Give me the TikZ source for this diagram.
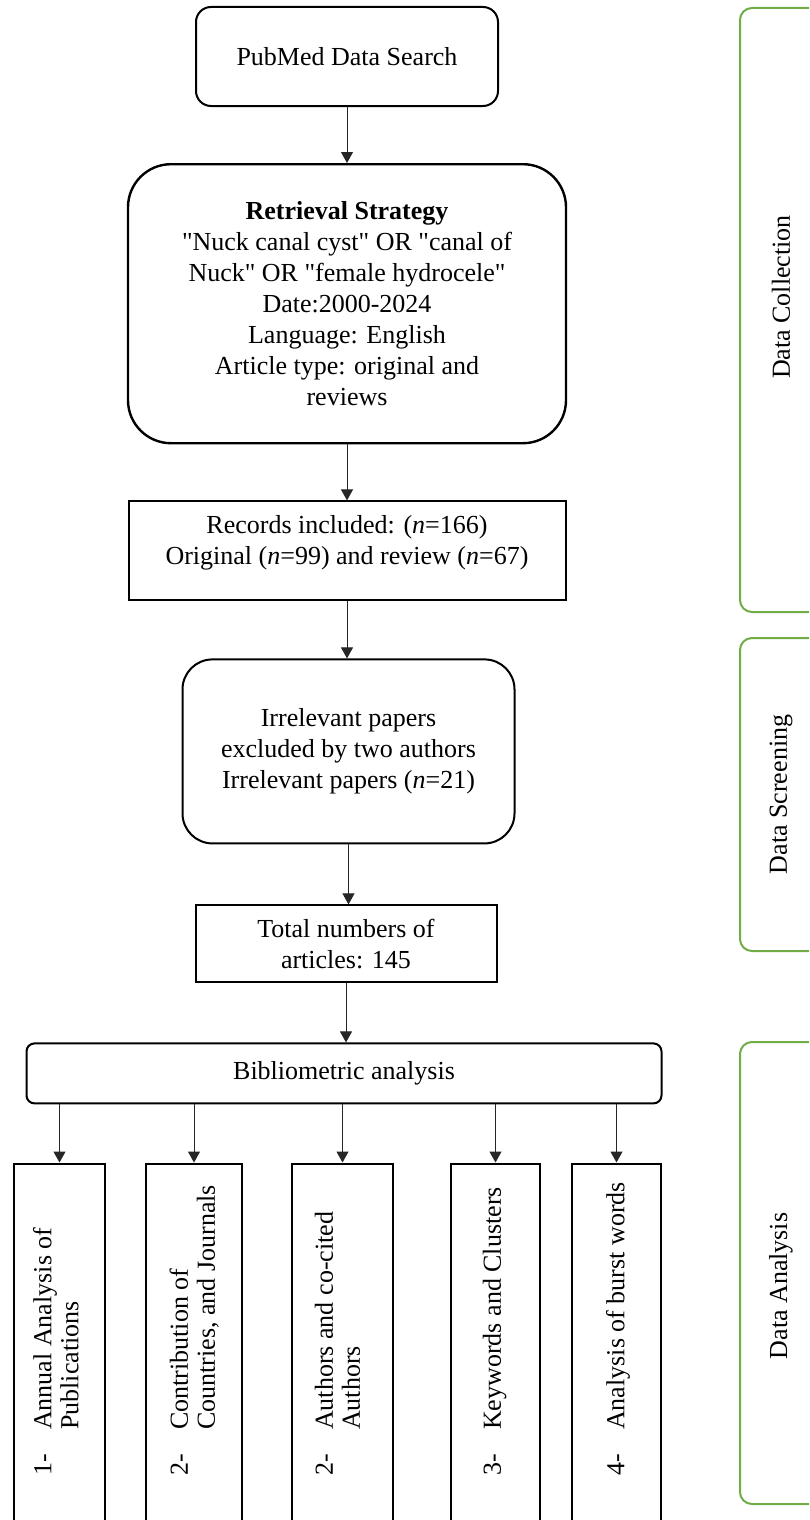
\documentclass[tikz,border=0pt]{standalone}
\usepackage{fontspec}
\setmainfont{Liberation Serif}
\usetikzlibrary{arrows.meta}
\usetikzlibrary{positioning}

\definecolor{stagegreen}{HTML}{70AD47}
\newcommand{\numitem}[2]{\begin{tabular}{@{}p{46pt}@{}l@{}}#1 & #2\end{tabular}}
\newcommand{\qt}[1]{\textquotedbl#1\textquotedbl}

\begin{document}
\begin{tikzpicture}[x=1pt, y=-1pt, >={Triangle[length=11pt,width=12pt]},
    font=\fontsize{26}{31}\selectfont,
    box/.style={draw, line width=2pt, align=center, inner sep=0pt},
    rbox/.style={box, rounded corners=#1},
    stage/.style={draw=stagegreen, line width=2pt, rounded corners=12pt,
        minimum width=82pt, inner sep=0pt},
    item/.style={rotate=90, anchor=west, inner sep=0pt, align=left,
        font=\fontsize{26}{27}\selectfont},
    link/.style={->, line width=1pt, black!85}]

    \clip (0,0) rectangle (809,1520);

    % Nodes

    \node[rbox=15pt, minimum width=302pt, minimum height=99pt] (pub) at (347,56.5) {PubMed Data Search}; %
    \node[rbox=43pt, line width=2.4pt, minimum width=438pt, minimum height=279pt, below=56pt of pub] (ret)
        {\textbf{Retrieval Strategy}\\ \qt{Nuck canal cyst} OR \qt{canal of\\ Nuck} OR \qt{female hydrocele}\\
         Date:2000-2024\\ Language: English\\ Article type: original and\\ reviews}; %
    \node[box, minimum width=437pt, minimum height=99pt, below=56pt of ret] (rec)
        {Records included: (\textit{n}=166)\\ Original (\textit{n}=99) and review (\textit{n}=67)\\[-10pt]\mbox{}}; %
    \node[rbox=30pt, minimum width=332pt, minimum height=184pt, below=57pt of rec, xshift=1.5pt] (irr)
        {Irrelevant papers\\ excluded by two authors\\ Irrelevant papers (\textit{n}=21)}; %
    \node[box, minimum width=301pt, minimum height=77pt, below=60pt of irr, xshift=-2.5pt] (tot)
        {Total numbers of\\ articles: 145}; %
    \node[rbox=8pt, minimum width=635pt, minimum height=60pt, below=59pt of tot, xshift=-2pt] (bib)
        {Bibliometric analysis}; %

    % Analysis boxes
    \foreach \name/\cx/\w in {bx1/59.5/91, bx2/194/96, bx3/342.5/101, bx4/495.5/89, bx5/616.5/89}
        \node[box, minimum width=\w pt, minimum height=420pt, anchor=north] (\name) at (\cx,1162.5) {};

    \node[item] (t1) at (59.5,1476) {\numitem{1-}{Annual Analysis of\\ & Publications}}; %
    \node[item] (t2) at (196,1476) {\numitem{2-}{Contribution of\\ & Countries, and Journals}}; %
    \node[item] (t3) at (341,1476) {\numitem{2-}{Authors and co-cited\\ & Authors}}; %
    \node[item] (t4) at (495.5,1476) {\numitem{3-}{Keywords and Clusters}}; %
    \node[item] (t5) at (619,1476) {\numitem{4-}{Analysis of burst words}}; %

    % Stages
    \node[stage, minimum height=604pt] (dcol) at (781,310) {\rotatebox{90}{\hspace*{26pt}Data Collection}}; %
    \node[stage, minimum height=313pt] (dscr) at (781,794.5) {\rotatebox{90}{Data Screening}}; %
    \node[stage, minimum height=462pt] (dana) at (781,1273) {\rotatebox{90}{Data Analysis\hspace*{26pt}}}; %

    % Edges
    \draw[link] (pub.south) -- (pub.south |- ret.north);
    \draw[link] (ret.south) -- (ret.south |- rec.north);
    \draw[link] (rec.south) -- (rec.south |- irr.north);
    \draw[link] (irr.south) -- (irr.south |- tot.north);
    \draw[link] (tot.south) -- (tot.south |- bib.north);
    \foreach \name in {bx1,bx2,bx3,bx4,bx5}
        \draw[link] (bib.south -| \name.north) -- (\name.north);

\end{tikzpicture}
\end{document}
